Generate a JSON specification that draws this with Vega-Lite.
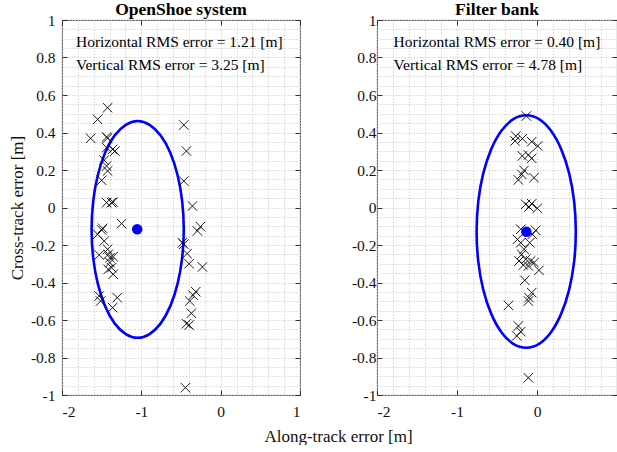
{
  "$schema": "https://vega.github.io/schema/vega-lite/v6.json",
  "padding": {"left": 7, "top": 0, "right": 0, "bottom": 0},
  "background": "white",
  "spacing": 77,
  "bounds": "flush",
  "config": {
    "font": "Liberation Serif",
    "view": {"stroke": "#3a3a3a", "strokeWidth": 0.9},
    "axis": {"labelFont": "Liberation Serif", "titleFont": "Liberation Serif", "labelColor": "#111", "titleColor": "#111", "labelFontSize": 15.5, "titleFontSize": 17, "titleFontWeight": "normal"},
    "title": {"font": "Liberation Serif", "fontSize": 17.5, "fontWeight": "bold", "color": "#000", "offset": -5}
  },
  "datasets": {
    "left_pts": [
      {"x": -1.425, "y": 0.532}, {"x": -1.551, "y": 0.47}, {"x": -1.639, "y": 0.369}, {"x": -1.438, "y": 0.376}, {"x": -1.425, "y": 0.37},
      {"x": -1.438, "y": 0.319}, {"x": -1.362, "y": 0.31}, {"x": -1.333, "y": 0.301}, {"x": -1.468, "y": 0.252}, {"x": -1.438, "y": 0.221},
      {"x": -1.425, "y": 0.195}, {"x": -1.5, "y": 0.145}, {"x": -1.438, "y": 0.026}, {"x": -1.375, "y": 0.026}, {"x": -1.355, "y": 0.029},
      {"x": -1.249, "y": -0.086}, {"x": -1.488, "y": -0.111}, {"x": -1.5, "y": -0.12}, {"x": -1.551, "y": -0.143}, {"x": -1.468, "y": -0.179},
      {"x": -1.425, "y": -0.223}, {"x": -1.531, "y": -0.253}, {"x": -1.355, "y": -0.262}, {"x": -1.396, "y": -0.268}, {"x": -1.417, "y": -0.25},
      {"x": -1.396, "y": -0.294}, {"x": -1.417, "y": -0.33}, {"x": -1.375, "y": -0.321}, {"x": -1.355, "y": -0.356}, {"x": -1.531, "y": -0.472},
      {"x": -1.513, "y": -0.499}, {"x": -1.304, "y": -0.481}, {"x": -1.362, "y": -0.534},
      {"x": -0.465, "y": 0.44}, {"x": -0.432, "y": 0.301}, {"x": -0.465, "y": 0.141}, {"x": -0.356, "y": 0.008}, {"x": -0.255, "y": -0.102},
      {"x": -0.293, "y": -0.125}, {"x": -0.482, "y": -0.188}, {"x": -0.465, "y": -0.196}, {"x": -0.423, "y": -0.246}, {"x": -0.398, "y": -0.3},
      {"x": -0.23, "y": -0.317}, {"x": -0.314, "y": -0.449}, {"x": -0.348, "y": -0.468}, {"x": -0.39, "y": -0.499}, {"x": -0.369, "y": -0.564},
      {"x": -0.432, "y": -0.62}, {"x": -0.398, "y": -0.627}, {"x": -0.444, "y": -0.961}
    ],
    "right_pts": [
      {"x": -0.133, "y": 0.488}, {"x": -0.265, "y": 0.381}, {"x": -0.274, "y": 0.355}, {"x": -0.183, "y": 0.367}, {"x": -0.066, "y": 0.351},
      {"x": 0.009, "y": 0.328}, {"x": -0.183, "y": 0.275}, {"x": -0.108, "y": 0.28}, {"x": -0.066, "y": 0.262}, {"x": -0.162, "y": 0.198},
      {"x": -0.191, "y": 0.177}, {"x": -0.233, "y": 0.147}, {"x": -0.037, "y": 0.159}, {"x": -0.141, "y": 0.017}, {"x": -0.066, "y": 0.02},
      {"x": -0.1, "y": 0.003}, {"x": 0.004, "y": -0.004}, {"x": -0.203, "y": -0.116}, {"x": -0.016, "y": -0.122}, {"x": -0.058, "y": -0.143},
      {"x": -0.245, "y": -0.17}, {"x": -0.203, "y": -0.188}, {"x": -0.091, "y": -0.188}, {"x": -0.162, "y": -0.223}, {"x": -0.191, "y": -0.25},
      {"x": -0.141, "y": -0.276}, {"x": -0.224, "y": -0.285}, {"x": -0.079, "y": -0.285}, {"x": -0.037, "y": -0.294}, {"x": -0.17, "y": -0.307},
      {"x": -0.108, "y": -0.312}, {"x": 0.025, "y": -0.335}, {"x": -0.153, "y": -0.388}, {"x": -0.066, "y": -0.454}, {"x": -0.1, "y": -0.481},
      {"x": -0.108, "y": -0.499}, {"x": -0.357, "y": -0.522}, {"x": -0.233, "y": -0.632}, {"x": -0.203, "y": -0.662}, {"x": -0.253, "y": -0.685},
      {"x": -0.108, "y": -0.908}
    ],
    "left_ell": [
      {"i": 0, "x": -0.465, "y": -0.117}, {"i": 1, "x": -0.485, "y": 0.033}, {"i": 2, "x": -0.543, "y": 0.172}, {"i": 3, "x": -0.635, "y": 0.292},
      {"i": 4, "x": -0.756, "y": 0.384}, {"i": 5, "x": -0.896, "y": 0.441}, {"i": 6, "x": -1.046, "y": 0.461}, {"i": 7, "x": -1.196, "y": 0.441},
      {"i": 8, "x": -1.337, "y": 0.384}, {"i": 9, "x": -1.457, "y": 0.292}, {"i": 10, "x": -1.549, "y": 0.172}, {"i": 11, "x": -1.607, "y": 0.033},
      {"i": 12, "x": -1.627, "y": -0.117}, {"i": 13, "x": -1.607, "y": -0.267}, {"i": 14, "x": -1.549, "y": -0.406}, {"i": 15, "x": -1.457, "y": -0.526},
      {"i": 16, "x": -1.337, "y": -0.618}, {"i": 17, "x": -1.196, "y": -0.675}, {"i": 18, "x": -1.046, "y": -0.695}, {"i": 19, "x": -0.896, "y": -0.675},
      {"i": 20, "x": -0.756, "y": -0.618}, {"i": 21, "x": -0.635, "y": -0.526}, {"i": 22, "x": -0.543, "y": -0.406}, {"i": 23, "x": -0.485, "y": -0.267}
    ],
    "right_ell": [
      {"i": 0, "x": 0.485, "y": -0.128}, {"i": 1, "x": 0.464, "y": 0.033}, {"i": 2, "x": 0.402, "y": 0.182}, {"i": 3, "x": 0.303, "y": 0.31},
      {"i": 4, "x": 0.175, "y": 0.409}, {"i": 5, "x": 0.026, "y": 0.471}, {"i": 6, "x": -0.135, "y": 0.492}, {"i": 7, "x": -0.296, "y": 0.471},
      {"i": 8, "x": -0.445, "y": 0.409}, {"i": 9, "x": -0.573, "y": 0.31}, {"i": 10, "x": -0.672, "y": 0.182}, {"i": 11, "x": -0.734, "y": 0.033},
      {"i": 12, "x": -0.755, "y": -0.128}, {"i": 13, "x": -0.734, "y": -0.289}, {"i": 14, "x": -0.672, "y": -0.438}, {"i": 15, "x": -0.573, "y": -0.566},
      {"i": 16, "x": -0.445, "y": -0.665}, {"i": 17, "x": -0.296, "y": -0.727}, {"i": 18, "x": -0.135, "y": -0.748}, {"i": 19, "x": 0.026, "y": -0.727},
      {"i": 20, "x": 0.175, "y": -0.665}, {"i": 21, "x": 0.303, "y": -0.566}, {"i": 22, "x": 0.402, "y": -0.438}, {"i": 23, "x": 0.464, "y": -0.289}
    ],
    "left_ctr": [{"x": -1.052, "y": -0.116}],
    "right_ctr": [{"x": -0.133, "y": -0.129}],
    "left_txt": [{"t": "Horizontal RMS error = 1.21 [m]\nVertical RMS error = 3.25 [m]"}],
    "right_txt": [{"t": "Horizontal RMS error = 0.40 [m]\nVertical RMS error = 4.78 [m]"}]
  },
  "hconcat": [
    {
      "width": 238,
      "height": 375,
      "title": {"text": "OpenShoe system"},
      "resolve": {"axis": {"x": "independent", "y": "independent"}},
      "layer": [
        {
          "data": {"name": "left_ell"},
          "mark": {"type": "line", "interpolate": "cardinal-closed", "color": "#0000ff", "strokeWidth": 2.6},
          "encoding": {
            "x": {"field": "x", "type": "quantitative", "scale": {"domain": [-2, 1], "nice": false, "zero": false},
              "axis": {"orient": "bottom", "values": [-2, -1.8, -1.6, -1.4, -1.2, -1, -0.8, -0.6, -0.4, -0.2, 0, 0.2, 0.4, 0.6, 0.8, 1], "grid": true, "gridColor": "#c6c6c6", "gridDash": [1.5, 1.5], "gridWidth": 0.7, "labels": false, "ticks": false, "domain": false, "title": null}},
            "y": {"field": "y", "type": "quantitative", "scale": {"domain": [-1, 1], "nice": false, "zero": false},
              "axis": {"orient": "left", "values": [-1, -0.95, -0.9, -0.85, -0.8, -0.75, -0.7, -0.65, -0.6, -0.55, -0.5, -0.45, -0.4, -0.35, -0.3, -0.25, -0.2, -0.15, -0.1, -0.05, 0, 0.05, 0.1, 0.15, 0.2, 0.25, 0.3, 0.35, 0.4, 0.45, 0.5, 0.55, 0.6, 0.65, 0.7, 0.75, 0.8, 0.85, 0.9, 0.95, 1], "grid": true, "gridColor": "#c6c6c6", "gridDash": [1.5, 1.5], "gridWidth": 0.7, "labels": false, "ticks": false, "domain": false, "title": null}},
            "order": {"field": "i", "type": "quantitative"}
          }
        },
        {
          "data": {"name": "left_pts"},
          "mark": {"type": "point", "shape": "M-1,-1L1,1M1,-1L-1,1", "size": 90, "strokeWidth": 0.9, "color": "#000", "opacity": 1},
          "encoding": {
            "x": {"field": "x", "type": "quantitative",
              "axis": {"orient": "bottom", "values": [-2, -1, 0, 1], "grid": false, "domain": false, "tickSize": -5, "tickColor": "#333", "labelPadding": 14, "labelExpr": "datum.value + ''",
                "title": "Along-track error [m]", "titleX": 276, "titleY": 41, "titleBaseline": "middle", "titleAlign": "center", "titleAnchor": null}},
            "y": {"field": "y", "type": "quantitative",
              "axis": {"orient": "left", "values": [-1, -0.8, -0.6, -0.4, -0.2, 0, 0.2, 0.4, 0.6, 0.8, 1], "grid": false, "domain": false, "tickSize": -5, "tickColor": "#333", "labelPadding": 12, "labelExpr": "datum.value + ''",
                "title": "Cross-track error [m]", "titleX": -45, "titleY": 187.5, "titleAngle": -90, "titleBaseline": "middle", "titleAlign": "center", "titleAnchor": null}}
          }
        },
        {
          "data": {"name": "left_ctr"},
          "mark": {"type": "point", "shape": "circle", "size": 110, "filled": true, "color": "#0000ff", "opacity": 1},
          "encoding": {
            "x": {"field": "x", "type": "quantitative", "axis": {"orient": "top", "values": [-2, -1, 0, 1], "grid": false, "domain": false, "labels": false, "tickSize": -5, "tickColor": "#333", "title": null}},
            "y": {"field": "y", "type": "quantitative", "axis": {"orient": "right", "values": [-1, -0.8, -0.6, -0.4, -0.2, 0, 0.2, 0.4, 0.6, 0.8, 1], "grid": false, "domain": false, "labels": false, "tickSize": -5, "tickColor": "#333", "title": null}}
          }
        },
        {
          "data": {"name": "left_txt"},
          "mark": {"type": "text", "align": "left", "baseline": "middle", "fontSize": 15.5, "lineBreak": "\n", "lineHeight": 23, "color": "#000"},
          "encoding": {
            "x": {"datum": -1.824, "type": "quantitative", "axis": null},
            "y": {"datum": 0.883, "type": "quantitative", "axis": null},
            "text": {"field": "t", "type": "nominal"}
          }
        }
      ]
    },
    {
      "width": 240,
      "height": 375,
      "title": {"text": "Filter bank"},
      "resolve": {"axis": {"x": "independent", "y": "independent"}},
      "layer": [
        {
          "data": {"name": "right_ell"},
          "mark": {"type": "line", "interpolate": "cardinal-closed", "color": "#0000ff", "strokeWidth": 2.6},
          "encoding": {
            "x": {"field": "x", "type": "quantitative", "scale": {"domain": [-2, 1], "nice": false, "zero": false},
              "axis": {"orient": "bottom", "values": [-2, -1.8, -1.6, -1.4, -1.2, -1, -0.8, -0.6, -0.4, -0.2, 0, 0.2, 0.4, 0.6, 0.8, 1], "grid": true, "gridColor": "#c6c6c6", "gridDash": [1.5, 1.5], "gridWidth": 0.7, "labels": false, "ticks": false, "domain": false, "title": null}},
            "y": {"field": "y", "type": "quantitative", "scale": {"domain": [-1, 1], "nice": false, "zero": false},
              "axis": {"orient": "left", "values": [-1, -0.95, -0.9, -0.85, -0.8, -0.75, -0.7, -0.65, -0.6, -0.55, -0.5, -0.45, -0.4, -0.35, -0.3, -0.25, -0.2, -0.15, -0.1, -0.05, 0, 0.05, 0.1, 0.15, 0.2, 0.25, 0.3, 0.35, 0.4, 0.45, 0.5, 0.55, 0.6, 0.65, 0.7, 0.75, 0.8, 0.85, 0.9, 0.95, 1], "grid": true, "gridColor": "#c6c6c6", "gridDash": [1.5, 1.5], "gridWidth": 0.7, "labels": false, "ticks": false, "domain": false, "title": null}},
            "order": {"field": "i", "type": "quantitative"}
          }
        },
        {
          "data": {"name": "right_pts"},
          "mark": {"type": "point", "shape": "M-1,-1L1,1M1,-1L-1,1", "size": 90, "strokeWidth": 0.9, "color": "#000", "opacity": 1},
          "encoding": {
            "x": {"field": "x", "type": "quantitative",
              "axis": {"orient": "bottom", "values": [-2, -1, 0], "grid": false, "domain": false, "tickSize": -5, "tickColor": "#333", "labelPadding": 14, "labelExpr": "datum.value + ''", "title": null}},
            "y": {"field": "y", "type": "quantitative",
              "axis": {"orient": "left", "values": [-1, -0.8, -0.6, -0.4, -0.2, 0, 0.2, 0.4, 0.6, 0.8, 1], "grid": false, "domain": false, "tickSize": -5, "tickColor": "#333", "labelPadding": 6, "labelExpr": "datum.value + ''", "title": null}}
          }
        },
        {
          "data": {"name": "right_ctr"},
          "mark": {"type": "point", "shape": "circle", "size": 110, "filled": true, "color": "#0000ff", "opacity": 1},
          "encoding": {
            "x": {"field": "x", "type": "quantitative", "axis": {"orient": "top", "values": [-2, -1, 0, 1], "grid": false, "domain": false, "labels": false, "tickSize": -5, "tickColor": "#333", "title": null}},
            "y": {"field": "y", "type": "quantitative", "axis": {"orient": "right", "values": [-1, -0.8, -0.6, -0.4, -0.2, 0, 0.2, 0.4, 0.6, 0.8, 1], "grid": false, "domain": false, "labels": false, "tickSize": -5, "tickColor": "#333", "title": null}}
          }
        },
        {
          "data": {"name": "right_txt"},
          "mark": {"type": "text", "align": "left", "baseline": "middle", "fontSize": 15.5, "lineBreak": "\n", "lineHeight": 23, "color": "#000"},
          "encoding": {
            "x": {"datum": -1.793, "type": "quantitative", "axis": null},
            "y": {"datum": 0.883, "type": "quantitative", "axis": null},
            "text": {"field": "t", "type": "nominal"}
          }
        }
      ]
    }
  ]
}
